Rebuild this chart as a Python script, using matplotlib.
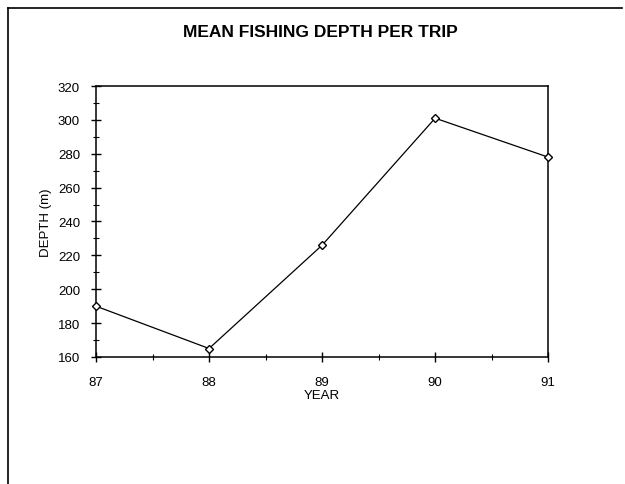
import matplotlib
matplotlib.use('Agg')
import matplotlib.pyplot as plt
from matplotlib.lines import Line2D
from matplotlib.ticker import MultipleLocator

plt.rcParams['font.family'] = ['Liberation Sans', 'DejaVu Sans']

years = [87, 88, 89, 90, 91]
depth = [190, 165, 226, 301, 278]
year_labels = ['87', '88', '89', '90', '91']

fig = plt.figure(figsize=(6.25, 4.85), dpi=100)
ax = fig.add_axes([0.1536, 0.2619, 0.7235, 0.5587])

ax.plot(years, depth, color='black', linewidth=0.9,
        marker='D', markersize=4, markerfacecolor='white',
        markeredgecolor='black', markeredgewidth=1.0, clip_on=False, zorder=3)

ax.set_xlim(87, 91)
ax.set_ylim(160, 320)
ax.set_xticks(years)
ax.set_xticklabels(year_labels)
ax.xaxis.set_minor_locator(MultipleLocator(0.5))
ax.yaxis.set_major_locator(MultipleLocator(20))
ax.yaxis.set_minor_locator(MultipleLocator(10))
ax.tick_params(axis='both', which='major', direction='inout', length=7,
               width=1, labelsize=9.5, top=False, right=False)
ax.tick_params(axis='both', which='minor', direction='inout', length=4,
               width=0.8, top=False, right=False)
ax.tick_params(axis='x', pad=10)
ax.tick_params(axis='y', pad=8)
for s in ax.spines.values():
    s.set_linewidth(1.1)
    s.set_color('black')

ax.set_xlabel('YEAR', fontsize=9.5, labelpad=1)
ax.set_ylabel('DEPTH (m)', fontsize=9.5, labelpad=4)
fig.text(0.512, 0.934, 'MEAN FISHING DEPTH PER TRIP', ha='center', va='center',
         fontsize=12.5, fontweight='bold')

# outer frame (left and top edges only)
fig.add_artist(Line2D([0.013, 0.013], [0.0, 0.981], color='black', linewidth=1.2))
fig.add_artist(Line2D([0.013, 0.995], [0.981, 0.981], color='black', linewidth=1.2))

fig.savefig('out.png', dpi=100)
